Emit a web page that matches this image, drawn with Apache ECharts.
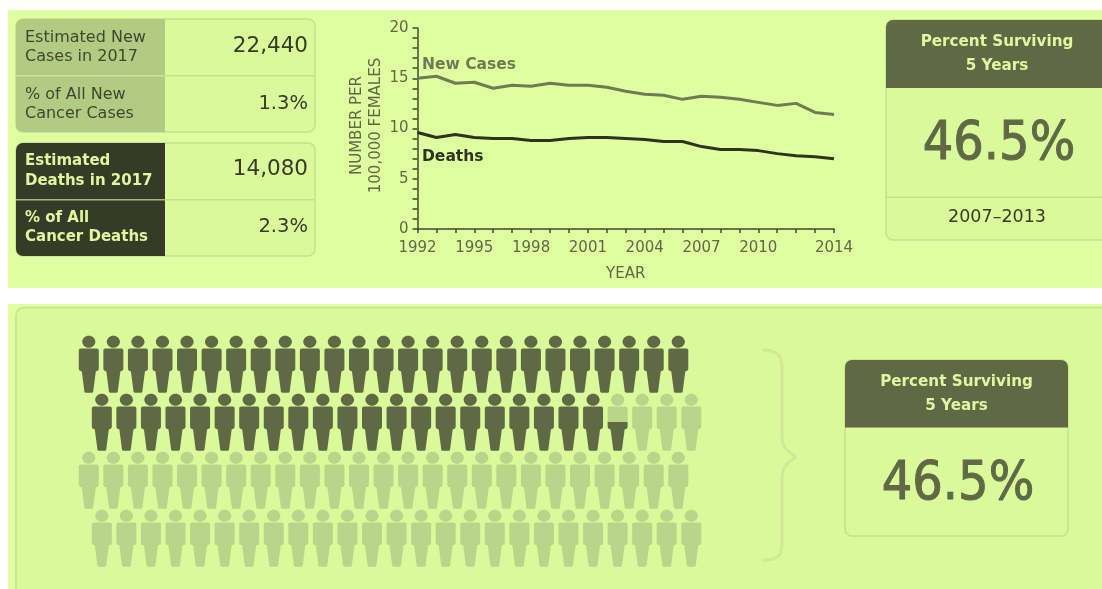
<!DOCTYPE html>
<html>
<head>
<meta charset="utf-8">
<style>html,body{margin:0;padding:0;background:#fff}#chart{width:1102px;height:589px}</style>
<script src="https://cdn.jsdelivr.net/npm/echarts@6/dist/echarts.min.js"></script>
</head>
<body>
<div id="chart"></div>
<script>
// Rates per 100,000 females
const years = ['1992','1993','1994','1995','1996','1997','1998','1999','2000','2001','2002','2003','2004','2005','2006','2007','2008','2009','2010','2011','2012','2013','2014'];
const newCases = [15.0,15.2,14.5,14.6,14.0,14.3,14.2,14.5,14.3,14.3,14.1,13.7,13.4,13.3,12.9,13.2,13.1,12.9,12.6,12.3,12.5,11.6,11.4];
const deaths = [9.6,9.1,9.4,9.1,9.0,9.0,8.8,8.8,9.0,9.1,9.1,9.0,8.9,8.7,8.7,8.2,7.9,7.9,7.8,7.5,7.3,7.2,7.0];
const labelledYears = ['1992','1995','1998','2001','2004','2007','2010','2014'];

// Headline statistics
const statLabelsNew = [['Estimated New','Cases in 2017'],['% of All New','Cancer Cases']];
const statValuesNew = ['22,440','1.3%'];
const statLabelsDeaths = [['Estimated','Deaths in 2017'],['% of All','Cancer Deaths']];
const statValuesDeaths = ['14,080','2.3%'];
const surviveTitle = ['Percent Surviving','5 Years'];
const percentSurviving = 46.5;
const surviveYears = '2007–2013';

// Pictogram: one hundred people in four rows
const peoplePerRow = 25;
const rowCount = 4;

const FONT = '"DejaVu Sans", sans-serif';
const PANEL = '#dffea0', CARD = '#daf99b', EDGE = '#c6e08f', MOSS = '#5f6a45', INK = '#363b27',
      SAGE = '#b2cb82', FADED = '#b9d58a', PALE = '#dff7a0';

const PERSON = 'path://M10 0C13.6 0 16.6 2.7 16.6 6C16.6 9.3 13.6 12 10 12C6.4 12 3.4 9.3 3.4 6C3.4 2.7 6.4 0 10 0Z' +
  'M2 12.8L18 12.8C19.2 12.8 20 13.6 20 14.8L20 33C20 34.2 19.2 35 18 35.2L17 35.8L14.4 55.8C14.3 56.6 13.8 57 13.2 57' +
  'L6.8 57C6.2 57 5.7 56.6 5.6 55.8L3 35.8L2 35.2C0.8 35 0 34.2 0 33L0 14.8C0 13.6 0.8 12.8 2 12.8Z';

function rect(x, y, w, h, fill, r, stroke) {
  return { type: 'rect', shape: { x, y, width: w, height: h, r: r || 0 },
    style: { fill, stroke: stroke || null, lineWidth: stroke ? 1.5 : 0 } };
}
function label(text, x, y, font, fill, align) {
  return { type: 'text', x, y, style: { text, font, fill, align: align || 'left', verticalAlign: 'middle' } };
}
function braceCurve(x1, y1, cpx1, cpy1, cpx2, cpy2, x2, y2) {
  return { type: 'bezierCurve', shape: { x1, y1, cpx1, cpy1, cpx2, cpy2, x2, y2 },
    style: { fill: null, stroke: '#cfe996', lineWidth: 3 } };
}
function braceLine(x1, y1, x2, y2) {
  return { type: 'line', shape: { x1, y1, x2, y2 }, style: { stroke: '#cfe996', lineWidth: 3 } };
}

function statTable(top, labels, values, cellFill, labelFill, labelFont, rowLine, valueYs, textYs) {
  const items = [
    rect(16, top, 299, 113, CARD, 7, EDGE),
    rect(16, top, 149, 113, cellFill, [7, 0, 0, 7]),
    rect(16, top + 56, 149, 1.5, rowLine),
    rect(165, top + 56, 150, 1.5, EDGE)
  ];
  labels.forEach((lines, i) => {
    lines.forEach((t, j) => items.push(label(t, 25, textYs[i][j], labelFont, labelFill)));
    items.push(label(values[i], 308, valueYs[i],
      (i === 0 ? '21.5px ' : '19.5px ') + FONT, INK, 'right'));
  });
  return items;
}

// Header band with a two-line title, and the large survival figure under it
function surviveCard(x, w, top, headerH, bottom, titleX, figureX, figureY, titleYs) {
  const items = [
    rect(x, top, w, bottom - top, CARD, 7, EDGE),
    rect(x, top, w, headerH, MOSS, [7, 7, 0, 0])
  ];
  surviveTitle.forEach((t, i) => items.push(label(t, titleX, titleYs[i], 'bold 15.2px ' + FONT, PALE, 'center')));
  const figure = label(percentSurviving + '%', figureX, figureY, '48px ' + FONT, MOSS, 'center');
  figure.scaleY = 1.12;
  figure.style.stroke = MOSS;
  figure.style.lineWidth = 1;
  items.push(figure);
  return items;
}

const panels = [
  rect(8, 10, 1094, 278, PANEL),
  rect(8, 304, 1094, 285, PANEL),
  rect(16, 307.5, 1096, 290, CARD, 8, EDGE),
  ...statTable(19, statLabelsNew, statValuesNew, SAGE, '#3f4630', '16px ' + FONT, '#c9e493',
    [46.5, 103.5], [[38, 56.5], [95, 114]]),
  ...statTable(143, statLabelsDeaths, statValuesDeaths, INK, PALE, 'bold 15px ' + FONT, '#a3ba74',
    [169, 227], [[161.5, 181], [218, 237]]),
  ...surviveCard(886, 224, 20, 68, 240, 997, 999, 145, [42, 66.5]),
  rect(886, 196.5, 216, 1.5, EDGE),
  label(surviveYears, 997, 217.5, '17.5px ' + FONT, INK, 'center'),
  ...surviveCard(845, 223, 360, 67.5, 536, 956.5, 958, 485.5, [382, 406.5]),
  braceCurve(763, 350, 778, 350, 782, 356, 782, 370),
  braceLine(782, 370, 782, 437),
  braceCurve(782, 437, 782, 447, 788, 452, 796, 457),
  braceCurve(796, 457, 788, 462, 782, 467, 782, 477),
  braceLine(782, 477, 782, 542),
  braceCurve(782, 542, 782, 556, 778, 560, 763, 560),
  label('New Cases', 422, 64.5, 'bold 15.5px ' + FONT, '#6d7c52'),
  label('Deaths', 422, 157, 'bold 15.5px ' + FONT, '#2d3320')
];

// Every person is filled in proportion to how much of the survival figure reaches them,
// with a partly filled person shaded from the feet upward.
function personColor(fill) {
  if (fill >= 1) return MOSS;
  if (fill <= 0) return FADED;
  const cut = 1 - fill;
  return new echarts.graphic.LinearGradient(0, 0, 0, 1, [
    { offset: 0, color: FADED }, { offset: cut, color: FADED },
    { offset: cut, color: MOSS }, { offset: 1, color: MOSS }
  ]);
}
const people = [];
for (let r = 0; r < rowCount; r++) {
  for (let c = 0; c < peoplePerRow; c++) {
    const fill = Math.max(0, Math.min(1, percentSurviving - (r * peoplePerRow + c)));
    people.push({ value: [c + (r % 2 ? 0.53 : 0), r], itemStyle: { color: personColor(fill), opacity: 1 } });
  }
}

const axisInk = '#3f4a2c';
const chart = echarts.init(document.getElementById('chart'), null, { renderer: 'canvas' });
chart.setOption({
  animation: false,
  backgroundColor: '#fff',
  graphic: { elements: panels },
  grid: [
    { left: 417.5, top: 28, width: 416.5, height: 201 },
    { left: 88.8, top: 364.2, width: 602.5, height: 174 }
  ],
  xAxis: [
    { type: 'category', gridIndex: 0, data: years, boundaryGap: false,
      name: 'YEAR', nameLocation: 'middle', nameGap: 38,
      nameTextStyle: { color: MOSS, fontFamily: FONT, fontSize: 15 },
      axisLine: { lineStyle: { color: axisInk, width: 1.5 } },
      axisTick: { show: true, interval: 0, length: 4, lineStyle: { color: axisInk, width: 1.5 } },
      axisLabel: { color: MOSS, fontFamily: FONT, fontSize: 15, margin: 12,
        interval: (i, v) => labelledYears.includes(v) },
      splitLine: { show: false } },
    { type: 'value', gridIndex: 1, min: 0, max: 24.53, show: false }
  ],
  yAxis: [
    { type: 'value', gridIndex: 0, min: 0, max: 20, interval: 5,
      name: 'NUMBER PER\n100,000 FEMALES', nameLocation: 'middle', nameRotate: 90, nameGap: 26.5,
      nameTextStyle: { color: MOSS, fontFamily: FONT, fontSize: 15, lineHeight: 19, padding: [0, 0, 0, 6] },
      axisLine: { show: true, onZero: false, lineStyle: { color: axisInk, width: 1.5 } },
      axisTick: { show: true, length: 5, lineStyle: { color: axisInk, width: 1.5 } },
      minorTick: { show: true, splitNumber: 5, length: 5, lineStyle: { color: axisInk, width: 1.5 } },
      axisLabel: { color: MOSS, fontFamily: FONT, fontSize: 15, margin: 9, padding: [3, 0, 0, 0] },
      splitLine: { show: false } },
    { type: 'value', gridIndex: 1, min: 0, max: 3, inverse: true, show: false }
  ],
  series: [
    { name: 'New Cases', type: 'line', xAxisIndex: 0, yAxisIndex: 0, data: newCases,
      symbol: 'none', lineStyle: { color: '#6d7c52', width: 3 } },
    { name: 'Deaths', type: 'line', xAxisIndex: 0, yAxisIndex: 0, data: deaths,
      symbol: 'none', lineStyle: { color: '#2d3320', width: 3 } },
    { name: 'People', type: 'scatter', xAxisIndex: 1, yAxisIndex: 1, data: people, clip: false, silent: true,
      symbol: PERSON, symbolSize: [20, 57], symbolKeepAspect: false }
  ]
});
</script>
</body>
</html>
